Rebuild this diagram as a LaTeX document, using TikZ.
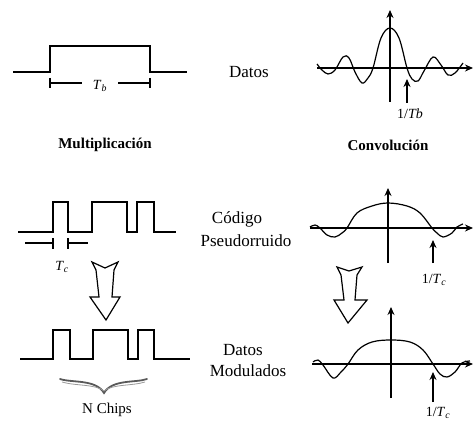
\documentclass[tikz,border=0pt]{standalone}
\usepackage{fontspec}
\setmainfont{Liberation Serif}
\usetikzlibrary{arrows.meta}
\newcommand{\itsub}[2]{\textit{#1}\textsubscript{\textit{#2}}}
\begin{document}
\begin{tikzpicture}[x=1pt,y=-1pt,
 wave/.style={line width=1.4pt, line join=miter},
 dim/.style={line width=1.3pt},
 axis/.style={line width=1.2pt, -{Stealth[length=8pt,width=7pt]}},
 curve/.style={line width=1.2pt},
 hollow/.style={line width=1.2pt, fill=white, line join=miter},
 brace/.style={line width=1.8pt, draw=black!65, line cap=round},
 lbl/.style={font=\fontsize{17}{20}\selectfont, inner sep=0pt},
 boldlbl/.style={font=\fontsize{15}{18}\selectfont\bfseries, inner sep=0pt},
 smalllbl/.style={font=\fontsize{14}{16}\selectfont, inner sep=0pt}]
\useasboundingbox (0,0) rectangle (473,422);

% ---------- top row ----------
\draw[wave] (13,72) -- (50,72) -- (50,46) -- (150,46) -- (150,72) -- (187,72);
\node[smalllbl] (tb) at (100,86) {\itsub{T}{b}};
\draw[dim] (50,78) -- (50,88) (50,83) -- (82,83);
\draw[dim] (150,78) -- (150,88) (150,83) -- (118,83);
\node[boldlbl] (mult) at (105,145) {Multiplicación};
\node[lbl] (datos1) at (249,72) {Datos};

\draw[axis] (317,68) -- (473,68);
\draw[axis] (390,102) -- (390,10);
\draw[curve] plot[smooth, tension=0.6] coordinates {
 (317,64) (322,70) (328,74) (335,70) (343,57) (349,58) (355,72) (362,83) (368,78) (373,68)
 (381,38) (390,28) (399,38) (407,68) (412,79) (418,81) (424,71) (433,57) (441,65) (448,75) (455,73) (463,63)};
\node[smalllbl] (f1) at (410,114) {1/\textit{Tb}};
\draw[axis] (407,103) -- (407,79);
\node[boldlbl] (conv) at (388,145) {Convolución};

% ---------- middle row ----------
\draw[wave] (18,232) -- (53,232) -- (53,202) -- (68,202) -- (68,232) -- (92,232) -- (92,202)
 -- (127,202) -- (127,232) -- (137,232) -- (137,202) -- (154,202) -- (154,232) -- (176,232);
\draw[dim] (53,238) -- (53,249) (53,243) -- (25,243);
\draw[dim] (68,238) -- (68,249) (68,243) -- (88,243);
\node[smalllbl] (tc) at (62,267) {\itsub{T}{c}};
\node[lbl] (cod) at (237,219) {Código};
\node[lbl] (pseudo) at (246,241) {Pseudorruido};

\draw[axis] (310,228) -- (473,228);
\draw[axis] (388,263) -- (388,188);
\draw[curve] plot[smooth, tension=0.6] coordinates {
 (310,227) (315,225) (320,228) (327,235) (335,237) (342,233) (347,228) (357,213) (372,206)
 (388,203) (407,206) (420,213) (432,228) (437,233) (443,237) (452,233) (457,227) (463,224)};
\draw[axis] (433,263) -- (433,240);
\node[smalllbl] (f2) at (434,280) {1/\itsub{T}{c}};

% hollow arrows
\draw[hollow] (92,262) -- (105,268) -- (118,262) -- (114,270) -- (112,297) -- (120,297)
 -- (106,320) -- (90,297) -- (99,297) -- (96,270) -- cycle;
\draw[hollow] (337,267) -- (349,271) -- (362,267) -- (357,275) -- (355,300) -- (367,300)
 -- (348,323) -- (334,300) -- (344,300) -- (341,275) -- cycle;

% ---------- bottom row ----------
\draw[wave] (20,359) -- (53,359) -- (53,330) -- (70,330) -- (70,359) -- (93,359) -- (93,330)
 -- (128,330) -- (128,359) -- (138,359) -- (138,330) -- (154,330) -- (154,359) -- (190,359);
\draw[brace] (60,379) .. controls (72,383) and (96,379) .. (104,393)
 .. controls (112,379) and (136,383) .. (147,379);
\draw[line width=0.8pt, draw=black!40] (62,382) .. controls (75,386) and (96,384) .. (104,391)
 .. controls (112,384) and (133,386) .. (145,382);
\node[font=\fontsize{15}{18}\selectfont, inner sep=0pt] (nch) at (107,410) {N Chips};
\node[lbl] (datos2) at (243,350) {Datos};
\node[lbl] (mod) at (248,371) {Modulados};

\draw[axis] (312,364) -- (473,364);
\draw[axis] (391,398) -- (391,307);
\draw[curve] plot[smooth, tension=0.6] coordinates {
 (313,362) (318,360) (323,365) (333,378) (341,372) (348,364) (358,350) (372,342)
 (391,340) (410,342) (423,350) (433,364) (440,374) (447,377) (455,372) (462,363) (470,361)};
\draw[axis] (433,402) -- (433,372);
\node[smalllbl] (f3) at (438,413) {1/\itsub{T}{c}};
\end{tikzpicture}
\end{document}
